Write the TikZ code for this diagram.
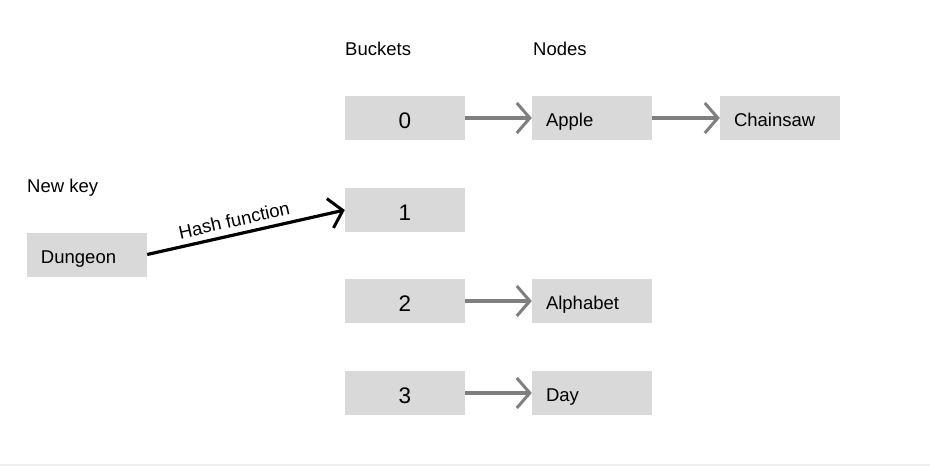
\documentclass[tikz,border=0pt]{standalone}
\usepackage{fontspec}
\setmainfont{Liberation Sans}
\usetikzlibrary{arrows.meta}
\definecolor{boxfill}{HTML}{D9D9D9}
\definecolor{arrgray}{HTML}{7F7F7F}
\definecolor{edge}{HTML}{EFEFEF}
\tikzset{
  bucket/.style={fill=boxfill, draw=none, minimum width=120pt, minimum height=44pt, inner sep=0pt, text height=21pt, text depth=0pt, font=\fontsize{22.5}{26}\selectfont},
  listnode/.style={fill=boxfill, draw=none, minimum width=120pt, minimum height=44pt, inner sep=0pt, text width=92pt, text height=17.3pt, text depth=0pt, align=left, font=\fontsize{18.5}{22}\selectfont},
  heading/.style={anchor=base west, inner sep=0pt, font=\fontsize{18.5}{22}\selectfont},
  link/.style={draw=arrgray, line width=3.2pt, -{Straight Barb[length=13pt, width=30pt, line width=3pt]}},
  hash/.style={draw=black, line width=3.2pt, -{Straight Barb[length=13pt, width=30pt, line width=3pt]}}
}
\begin{document}
\begin{tikzpicture}[x=1pt, y=-1pt]
\useasboundingbox (0,0) rectangle (930,466);
\draw[edge, line width=1.2pt] (0,465) -- (930,465);
\node[heading] (hb) at (345,55.5) {Buckets};
\node[heading] (hn) at (533,55.5) {Nodes};
\node[heading] (hk) at (27,192.5) {New key};
\node[bucket] (b0) at (405,118) {0};
\node[bucket] (b1) at (405,210) {1};
\node[bucket] (b2) at (405,301) {2};
\node[bucket] (b3) at (405,393) {3};
\node[listnode] (apple) at (592,118) {Apple};
\node[listnode] (chain) at (780,118) {Chainsaw};
\node[listnode] (alpha) at (592,301) {Alphabet};
\node[listnode] (day) at (592,393) {Day};
\node[listnode] (dung) at (87,254.5) {Dungeon};
\draw[link] (b0.east) -- (apple.west);
\draw[link] (apple.east) -- (chain.west);
\draw[link] (b2.east) -- (alpha.west);
\draw[link] (b3.east) -- (day.west);
\draw[hash] (dung.east) -- (b1.west) node[midway, above=6pt, sloped, xshift=-9pt, inner sep=0pt, font=\fontsize{18.5}{22}\selectfont] (hl) {Hash function};
\end{tikzpicture}
\end{document}
